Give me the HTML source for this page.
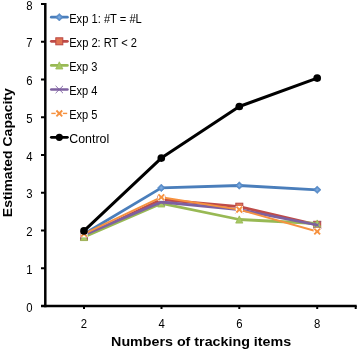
<!DOCTYPE html>
<html><head><meta charset="utf-8"><title>Estimated Capacity chart</title>
<style>
html,body{margin:0;padding:0;background:#fff;overflow:hidden;}
svg{display:block;}
text{font-family:"Liberation Sans",sans-serif;fill:#000;}
.t{font-size:12.3px;}
.b{font-size:13.6px;font-weight:bold;}
</style></head>
<body>
<svg width="358" height="351" viewBox="0 0 358 351">
<rect width="358" height="351" fill="#fff"/>
<g><polyline fill="none" stroke="#4A7EBB" stroke-width="2.8" stroke-linejoin="round" stroke-linecap="round" points="84,234 161.3,187.9 239.3,185.5 317.2,189.8"/>
<path d="M80.2,234L84,230.2L87.8,234L84,237.8Z" fill="#5A8ECB" stroke="#4A7EBB" stroke-width="0.5"/><path d="M82.2,234L84,232.2L85.8,234L84,235.8Z" fill="#7BA9DE"/><path d="M157.5,187.9L161.3,184.1L165.1,187.9L161.3,191.7Z" fill="#5A8ECB" stroke="#4A7EBB" stroke-width="0.5"/><path d="M159.5,187.9L161.3,186.1L163.1,187.9L161.3,189.7Z" fill="#7BA9DE"/><path d="M235.5,185.5L239.3,181.7L243.1,185.5L239.3,189.3Z" fill="#5A8ECB" stroke="#4A7EBB" stroke-width="0.5"/><path d="M237.5,185.5L239.3,183.7L241.1,185.5L239.3,187.3Z" fill="#7BA9DE"/><path d="M313.4,189.8L317.2,186L321,189.8L317.2,193.6Z" fill="#5A8ECB" stroke="#4A7EBB" stroke-width="0.5"/><path d="M315.4,189.8L317.2,188L319,189.8L317.2,191.6Z" fill="#7BA9DE"/></g>
<g><polyline fill="none" stroke="#BE4B48" stroke-width="2.8" stroke-linejoin="round" stroke-linecap="round" points="84,236.6 161.3,199.6 239.3,206.7 317.2,224.8"/>
<rect x="80.5" y="233.1" width="7" height="7" fill="#E07452" stroke="#BA4542" stroke-width="1"/><rect x="157.8" y="196.1" width="7" height="7" fill="#E07452" stroke="#BA4542" stroke-width="1"/><rect x="235.8" y="203.2" width="7" height="7" fill="#E07452" stroke="#BA4542" stroke-width="1"/><rect x="313.7" y="221.3" width="7" height="7" fill="#E07452" stroke="#BA4542" stroke-width="1"/></g>
<g><polyline fill="none" stroke="#98B954" stroke-width="2.8" stroke-linejoin="round" stroke-linecap="round" points="84,237 161.3,203.4 239.3,219.5 317.2,223.5"/>
<path d="M84,233.4L87.6,240.6L80.4,240.6Z" fill="#A6C763" stroke="#98B954" stroke-width="0.8"/><path d="M161.3,199.8L164.9,207L157.7,207Z" fill="#A6C763" stroke="#98B954" stroke-width="0.8"/><path d="M239.3,215.9L242.9,223.1L235.7,223.1Z" fill="#A6C763" stroke="#98B954" stroke-width="0.8"/><path d="M317.2,219.9L320.8,227.1L313.6,227.1Z" fill="#A6C763" stroke="#98B954" stroke-width="0.8"/></g>
<g><polyline fill="none" stroke="#7D60A0" stroke-width="2.8" stroke-linejoin="round" stroke-linecap="round" points="84,235 161.3,202 239.3,209.6 317.2,225"/>
<path d="M80.3,231.3L87.7,238.7M80.3,238.7L87.7,231.3" stroke="#7D60A0" stroke-width="0.9" fill="none"/><path d="M157.6,198.3L165,205.7M157.6,205.7L165,198.3" stroke="#7D60A0" stroke-width="0.9" fill="none"/><path d="M235.6,205.9L243,213.3M235.6,213.3L243,205.9" stroke="#7D60A0" stroke-width="0.9" fill="none"/><path d="M313.5,221.3L320.9,228.7M313.5,228.7L320.9,221.3" stroke="#7D60A0" stroke-width="0.9" fill="none"/></g>
<g><polyline fill="none" stroke="#F69240" stroke-width="1.9" stroke-linejoin="round" stroke-linecap="round" points="84,233.8 161.3,197.2 239.3,209.6 317.2,231.5"/>
<rect x="80.4" y="230.2" width="7.2" height="7.2" fill="#fff"/><path d="M81.1,230.9L86.9,236.7M81.1,236.7L86.9,230.9M82.2,233.8H86" stroke="#F69240" stroke-width="1.9" fill="none"/><rect x="157.7" y="193.6" width="7.2" height="7.2" fill="#fff"/><path d="M158.4,194.3L164.2,200.1M158.4,200.1L164.2,194.3M159.5,197.2H163.3" stroke="#F69240" stroke-width="1.9" fill="none"/><rect x="235.7" y="206" width="7.2" height="7.2" fill="#fff"/><path d="M236.4,206.7L242.2,212.5M236.4,212.5L242.2,206.7M237.5,209.6H241.3" stroke="#F69240" stroke-width="1.9" fill="none"/><rect x="313.6" y="227.9" width="7.2" height="7.2" fill="#fff"/><path d="M314.3,228.6L320.1,234.4M314.3,234.4L320.1,228.6M315.4,231.5H319.2" stroke="#F69240" stroke-width="1.9" fill="none"/></g>
<g><polyline fill="none" stroke="#000" stroke-width="3.0" stroke-linejoin="round" stroke-linecap="round" points="84,230.9 161.3,158.1 239.3,106.5 317.2,78.1"/>
<circle cx="84" cy="230.9" r="3.85" fill="#000"/><circle cx="161.3" cy="158.1" r="3.85" fill="#000"/><circle cx="239.3" cy="106.5" r="3.85" fill="#000"/><circle cx="317.2" cy="78.1" r="3.85" fill="#000"/></g>
<g stroke="#000" stroke-width="2.5" fill="none">
<line x1="45.3" y1="3.1" x2="45.3" y2="307.2"/>
<line x1="41" y1="306" x2="356.7" y2="306"/>
</g>
<g stroke="#000" stroke-width="2" fill="none">
<path d="M41,4.1H45 M41,41.8H45 M41,79.6H45 M41,117.3H45 M41,155H45 M41,192.8H45 M41,230.5H45 M41,268.3H45"/>
<path d="M84,306V309 M161.5,306V309 M239.3,306V309 M317.2,306V309 M355.7,306V309"/>
</g>
<g class="t" text-anchor="end">
<text x="32.6" y="9.6" textLength="6.3" lengthAdjust="spacingAndGlyphs">8</text><text x="32.6" y="47.3" textLength="6.3" lengthAdjust="spacingAndGlyphs">7</text><text x="32.6" y="85.1" textLength="6.3" lengthAdjust="spacingAndGlyphs">6</text><text x="32.6" y="122.8" textLength="6.3" lengthAdjust="spacingAndGlyphs">5</text>
<text x="32.6" y="160.5" textLength="6.3" lengthAdjust="spacingAndGlyphs">4</text><text x="32.6" y="198.3" textLength="6.3" lengthAdjust="spacingAndGlyphs">3</text><text x="32.6" y="236" textLength="6.3" lengthAdjust="spacingAndGlyphs">2</text><text x="32.6" y="273.8" textLength="6.3" lengthAdjust="spacingAndGlyphs">1</text><text x="32.6" y="311.5" textLength="6.3" lengthAdjust="spacingAndGlyphs">0</text>
</g>
<g class="t" text-anchor="middle">
<text x="84" y="328" textLength="6.3" lengthAdjust="spacingAndGlyphs">2</text><text x="161.6" y="328" textLength="6.3" lengthAdjust="spacingAndGlyphs">4</text><text x="239.3" y="328" textLength="6.3" lengthAdjust="spacingAndGlyphs">6</text><text x="317.2" y="328" textLength="6.3" lengthAdjust="spacingAndGlyphs">8</text>
</g>
<text class="b" x="111.1" y="345.8" textLength="180" lengthAdjust="spacingAndGlyphs">Numbers of tracking items</text>
<text class="b" transform="translate(11.5,217.2) rotate(-90)" x="0" y="0" textLength="129" lengthAdjust="spacingAndGlyphs">Estimated Capacity</text>
<g><line x1="51.3" y1="17.2" x2="67.4" y2="17.2" stroke="#4A7EBB" stroke-width="2.7" stroke-linecap="round"/><path d="M55.5,17.2L59.3,13.4L63.1,17.2L59.3,21Z" fill="#5A8ECB" stroke="#4A7EBB" stroke-width="0.5"/><path d="M57.5,17.2L59.3,15.4L61.1,17.2L59.3,19Z" fill="#7BA9DE"/></g>
<text class="t" x="69.2" y="22.6" textLength="72.6" lengthAdjust="spacingAndGlyphs">Exp 1: #T = #L</text>
<g><line x1="51.3" y1="41.3" x2="67.4" y2="41.3" stroke="#BE4B48" stroke-width="2.7" stroke-linecap="round"/><rect x="55.8" y="37.8" width="7" height="7" fill="#E07452" stroke="#BA4542" stroke-width="1"/></g>
<text class="t" x="69.2" y="46.7" textLength="67.8" lengthAdjust="spacingAndGlyphs">Exp 2: RT &lt; 2</text>
<g><line x1="51.3" y1="65.4" x2="67.4" y2="65.4" stroke="#98B954" stroke-width="2.7" stroke-linecap="round"/><path d="M59.3,61.8L62.9,69L55.7,69Z" fill="#A6C763" stroke="#98B954" stroke-width="0.8"/></g>
<text class="t" x="69.2" y="70.8" textLength="28.3" lengthAdjust="spacingAndGlyphs">Exp 3</text>
<g><line x1="51.3" y1="89.5" x2="67.4" y2="89.5" stroke="#7D60A0" stroke-width="2.7" stroke-linecap="round"/><path d="M55.6,85.8L63,93.2M55.6,93.2L63,85.8" stroke="#7D60A0" stroke-width="0.9" fill="none"/></g>
<text class="t" x="69.2" y="94.9" textLength="28.3" lengthAdjust="spacingAndGlyphs">Exp 4</text>
<g><line x1="51.3" y1="113.4" x2="67.2" y2="113.4" stroke="#F69240" stroke-width="1.4"/><rect x="55.7" y="109.8" width="7.2" height="7.2" fill="#fff"/><path d="M56.4,110.5L62.2,116.3M56.4,116.3L62.2,110.5M57.5,113.4H61.3" stroke="#F69240" stroke-width="1.9" fill="none"/></g>
<text class="t" x="69.2" y="118.8" textLength="28.3" lengthAdjust="spacingAndGlyphs">Exp 5</text>
<g><line x1="51.3" y1="137.3" x2="67.4" y2="137.3" stroke="#000" stroke-width="2.7" stroke-linecap="round"/><circle cx="59.3" cy="137.3" r="3.6" fill="#000"/></g>
<text class="t" x="69.2" y="142.7" textLength="40" lengthAdjust="spacingAndGlyphs">Control</text>
</svg>
</body></html>
